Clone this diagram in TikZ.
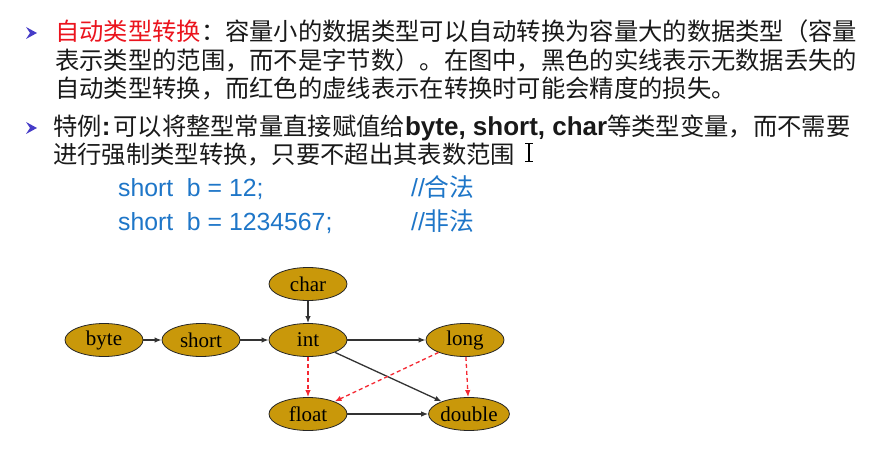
\documentclass[tikz,border=0pt]{standalone}
\usepackage{fontspec}
\setmainfont{Liberation Serif}
\newfontfamily\cjk{Noto Sans CJK SC}
\newfontfamily\arial{Liberation Sans}
\usetikzlibrary{shapes.geometric,arrows.meta}
\definecolor{nodefill}{RGB}{201,152,10}
\definecolor{redline}{RGB}{245,40,50}
\definecolor{convred}{RGB}{235,20,30}
\definecolor{codeblue}{RGB}{30,118,200}
\definecolor{bulletblue}{RGB}{70,60,200}
\definecolor{txtblack}{RGB}{25,25,25}
\tikzset{
  tnode/.style={ellipse, draw=black!85, line width=0.8pt, fill=nodefill,
    minimum width=78pt, minimum height=33pt, inner sep=0pt,
    font=\fontsize{21}{21}\selectfont, text=black},
  solidarr/.style={-{Latex[length=7pt,width=5.5pt]}, line width=1.3pt, draw=black!80},
  redarr/.style={-{Latex[length=7pt,width=5.5pt]}, line width=1.3pt, draw=redline,
    dash pattern=on 4pt off 3pt},
  txt/.style={anchor=base west, inner sep=0pt, text=txtblack,
    font=\cjk\fontsize{24.3}{29}\selectfont},
  code/.style={anchor=base west, inner sep=0pt, text=codeblue,
    font=\arial\fontsize{24.8}{29}\selectfont},
  bulletmark/.style={fill=bulletblue},
}
\begin{document}
\begin{tikzpicture}[x=1pt,y=-1pt]
\fill[white] (0,0) rectangle (896,454);
\useasboundingbox (0,0) rectangle (896,454);

% bullets
\fill[bulletmark] (26,27) -- (37,33) -- (26,39) -- (30,33) -- cycle;
\fill[bulletmark] (26,122) -- (37,128) -- (26,134) -- (30,128) -- cycle;

% text lines
\node[txt] (l1) at (55,41) {\textcolor{convred}{自动类型转换}：容量小的数据类型可以自动转换为容量大的数据类型（容量};
\node[txt] (l2) at (55,70) {表示类型的范围，而不是字节数）。在图中，黑色的实线表示无数据丢失的};
\node[txt] (l3) at (55,98) {自动类型转换，而红色的虚线表示在转换时可能会精度的损失。};
\node[txt] (l4) at (53,136) {特例{\arial\bfseries\fontsize{26}{29}\selectfont:}\hspace{3pt}可以将整型常量直接赋值给{\arial\bfseries\fontsize{26}{29}\selectfont byte, short, char}等类型变量，而不需要};
\node[txt] (l5) at (53,164) {进行强制类型转换，只要不超出其表数范围};

% I-beam cursor
\draw[line width=1.6pt, black] (529,144) -- (529,161);
\draw[line width=1pt, black] (525,143.5) -- (533,143.5) (525,161.5) -- (533,161.5);

% code lines
\node[code] (c1) at (118,197) {short\hspace{0.55em}b = 12;};
\node[code] (c1c) at (411,197) {//{\cjk 合法}};
\node[code] (c2) at (118,231) {short\hspace{0.55em}b = 1234567;};
\node[code] (c2c) at (411,231) {//{\cjk 非法}};

% diagram nodes
\node[tnode] (char) at (308,284) {char};
\node[tnode] (byte) at (104,340) {byte};
\node[tnode] (short) at (201,340) {short};
\node[tnode] (int) at (308,340) {int};
\node[tnode] (long) at (465,340) {long};
\node[tnode] (float) at (308,414) {float};
\node[tnode] (double) at (469,414) {double};

% connectors
\draw[solidarr] (byte) -- (short);
\draw[solidarr] (short) -- (int);
\draw[solidarr] (char) -- (int);
\draw[solidarr] (int) -- (long);
\draw[solidarr] (int) -- (double);
\draw[solidarr] (float) -- (double);
\draw[redarr] (int) -- (float);
\draw[redarr] (long) -- (float);
\draw[redarr] (long) -- (double);
\end{tikzpicture}
\end{document}
